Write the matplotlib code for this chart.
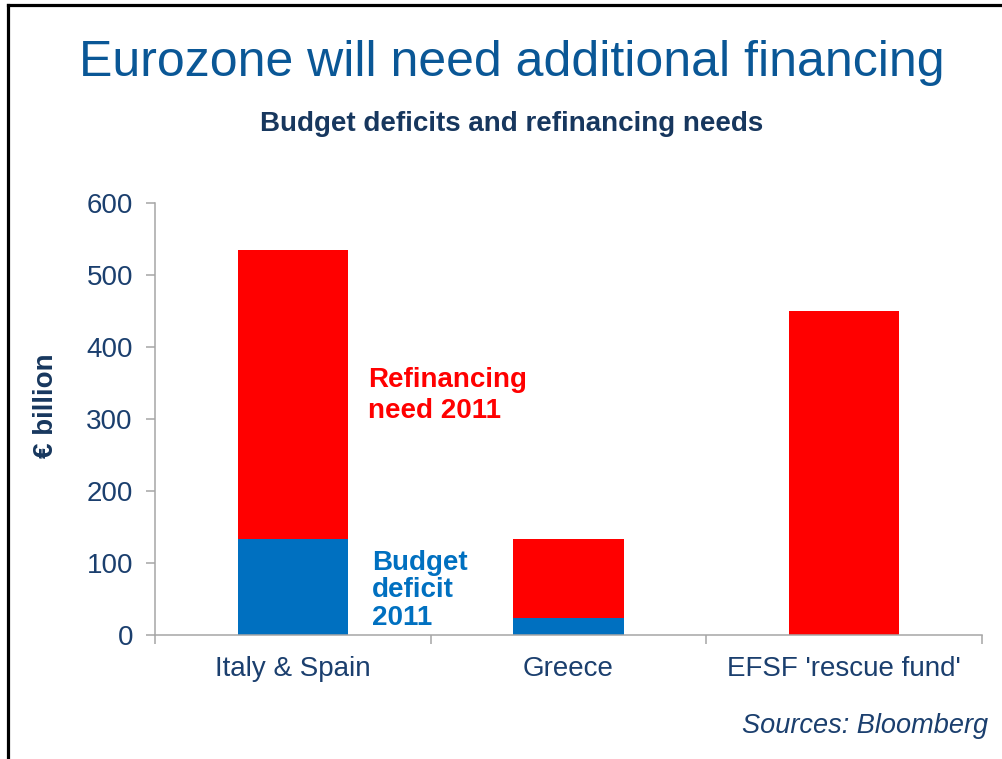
import matplotlib
matplotlib.use("Agg")
import matplotlib.pyplot as plt
from matplotlib.lines import Line2D
import numpy as np

plt.rcParams['font.family'] = ['Liberation Sans', 'DejaVu Sans']

categories = ['Italy & Spain', 'Greece', "EFSF 'rescue fund'"]
budget_deficit = [133, 24, 0]
refinancing_need = [402, 110, 450]
yticks = [0, 100, 200, 300, 400, 500, 600]

RED = '#ff0000'
BLUE = '#0070c0'
NAVY = '#17375e'
AXIS_TXT = '#1b3f6e'
TITLE_BLUE = '#0a5796'
GRAY = '#a6a6a6'

fig = plt.figure(figsize=(10.03, 7.59), dpi=100)
ax = fig.add_axes([0.1545, 0.1634, 0.8245, 0.5688])

x = np.arange(len(categories))
ax.bar(x, budget_deficit, width=0.4, color=BLUE, linewidth=0)
ax.bar(x, refinancing_need, width=0.4, bottom=budget_deficit, color=RED, linewidth=0)

ax.set_xlim(-0.5, len(categories) - 0.5)
ax.set_ylim(0, 600)
ax.set_yticks(yticks)
ax.set_xticks(x)
ax.set_xticklabels(categories)
ax.set_xticks(np.arange(len(categories) + 1) - 0.5, minor=True)

for side in ['top', 'right']:
    ax.spines[side].set_visible(False)
for side in ['left', 'bottom']:
    ax.spines[side].set_color(GRAY)
    ax.spines[side].set_linewidth(1.1)

ax.tick_params(axis='y', length=6.5, width=1.1, color=GRAY, pad=9.4,
               labelsize=20, labelcolor=AXIS_TXT)
ax.tick_params(axis='x', which='major', length=0, pad=15,
               labelsize=20, labelcolor=AXIS_TXT)
ax.tick_params(axis='x', which='minor', length=6.5, width=1.1, color=GRAY)

ax.set_ylabel('€ billion', fontsize=20, fontweight='bold', color=NAVY)
ax.yaxis.set_label_coords(-0.132, 0.53)
ax.yaxis.label.set_va('center')

# in-chart series labels
ax.text(0.273, 372, 'Refinancing\nneed 2011', color=RED, fontsize=20,
        fontweight='bold', va='top', ha='left', linespacing=1.24)
ax.text(0.287, 118, 'Budget\ndeficit\n2011', color=BLUE, fontsize=20,
        fontweight='bold', va='top', ha='left', linespacing=1.07)

fig.text(0.51, 1 - 76 / 759, 'Eurozone will need additional financing',
         fontsize=36, color=TITLE_BLUE, ha='center', va='baseline')
fig.text(0.51, 1 - 131 / 759, 'Budget deficits and refinancing needs',
         fontsize=20, fontweight='bold', color=NAVY, ha='center', va='baseline')
fig.text(988 / 1003, 1 - 733 / 759, 'Sources: Bloomberg', fontsize=19.5,
         style='italic', color=AXIS_TXT, ha='right', va='baseline')

# slide frame: top and left edges
fig.add_artist(Line2D([8 / 1003, 1.0], [1 - 5 / 759, 1 - 5 / 759],
                      color='black', linewidth=2.3, transform=fig.transFigure))
fig.add_artist(Line2D([8 / 1003, 8 / 1003], [0.0, 1 - 5 / 759],
                      color='black', linewidth=2.3, transform=fig.transFigure))

fig.savefig('out.png', dpi=100, facecolor='white')
